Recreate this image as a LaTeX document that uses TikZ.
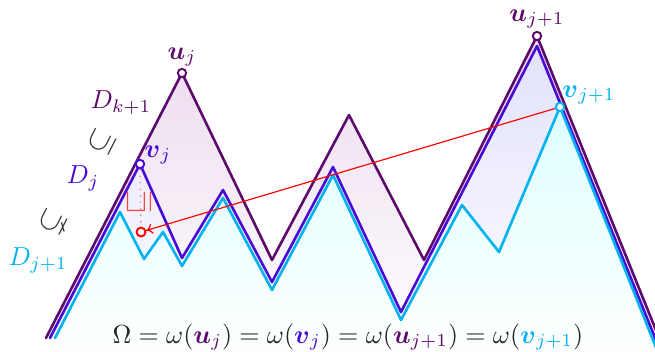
\documentclass[tikz,border=0pt]{standalone}
\usepackage{amsmath,amssymb}
\usetikzlibrary{arrows.meta}
\definecolor{ppl}{RGB}{92,10,108}
\definecolor{blu}{RGB}{72,10,215}
\definecolor{cyn}{RGB}{0,178,240}
\definecolor{pplfill}{RGB}{236,218,238}
\definecolor{blufill}{RGB}{226,226,252}
\definecolor{cynfill}{RGB}{222,255,255}
\begin{document}
\begin{tikzpicture}[x=0.0135cm,y=-0.0135cm,
  pth/.style={line width=1pt, line join=round, line cap=round},
  dotnode/.style={circle, draw, fill=white, line width=0.75pt, inner sep=0pt, minimum size=3.2pt},
  lbl/.style={inner sep=0pt},
  relsym/.style={inner sep=0pt, text=black!80, scale=1.2}]
\useasboundingbox (0,0) rectangle (655,351);
\begin{scope}
\clip (0,0) rectangle (655,351);
% fills
\shade[top color=pplfill, bottom color=white] (46,338) -- (182,73) -- (272,260) -- (349,115) -- (424,260) -- (537,36) -- (668,360) -- (46,360) -- cycle;
\shade[top color=blufill, bottom color=white] (50,338) -- (140,164) -- (182,258) -- (223,190) -- (272,282) -- (333,167) -- (401,312) -- (537,46) -- (664,360) -- (50,360) -- cycle;
\shade[top color=cynfill, bottom color=white] (55,338) -- (120,212) -- (144,259) -- (163,232) -- (182,266) -- (223,198) -- (272,290) -- (333,175) -- (401,320) -- (462,205) -- (499,252) -- (560,107) -- (661,360) -- (55,360) -- cycle;
% paths
\draw[pth, ppl] (46,338) -- (182,73) -- (272,260) -- (349,115) -- (424,260) -- (537,36) -- (668,360);
\draw[pth, blu] (50,338) -- (140,164) -- (182,258) -- (223,190) -- (272,282) -- (333,167) -- (401,312) -- (537,46) -- (664,360);
\draw[pth, cyn] (55,338) -- (120,212) -- (144,259) -- (163,232) -- (182,266) -- (223,198) -- (272,290) -- (333,175) -- (401,320) -- (462,205) -- (499,252) -- (560,107) -- (661,360);
\end{scope}
% marked points
\node[dotnode, draw=ppl] (uj) at (182,73) {};
\node[dotnode, draw=blu] (vj) at (140,164) {};
\node[dotnode, draw=ppl] (uj1) at (537,36) {};
\node[dotnode, draw=cyn] (vj1) at (560,107) {};
\node[dotnode, draw=red, minimum size=3.4pt] (w) at (141,232) {};
% red connectors
\draw[red!55, dotted, line width=0.5pt] (vj) -- (w);
\draw[red, line width=0.45pt, -{To[length=2.5pt,width=4pt]}] (vj1) -- (w);
\node[relsym, text=red!75, rotate=90] (sq) at (139,202) {$\sqsubseteq$};
% labels
\node[lbl, text=ppl] (luj) at (182,57) {$\boldsymbol{u}_j$};
\node[lbl, text=ppl] (luj1) at (537,19) {$\boldsymbol{u}_{j+1}$};
\node[lbl, text=blu] (lvj) at (158,155) {$\boldsymbol{v}_j$};
\node[lbl, text=cyn] (lvj1) at (589,95) {$\boldsymbol{v}_{j+1}$};
\node[lbl, text=ppl] (dk) at (121,103) {$D_{k+1}$};
\node[lbl, text=blu] (dj) at (83,178) {$D_j$};
\node[lbl, text=cyn] (dj1) at (38,260) {$D_{j+1}$};
\node[relsym, rotate=63] (r1) at (102,142) {$\subseteq$};
\node[relsym, rotate=63] (r2) at (53,222) {$\subsetneq$};
\node[lbl, anchor=base, text=black!85] (om) at (348,343) {$\Omega=\omega({\color{ppl}\boldsymbol{u}_j})=\omega({\color{blu}\boldsymbol{v}_j})=\omega({\color{ppl}\boldsymbol{u}_{j+1}})=\omega({\color{cyn}\boldsymbol{v}_{j+1}})$};
\end{tikzpicture}
\end{document}
